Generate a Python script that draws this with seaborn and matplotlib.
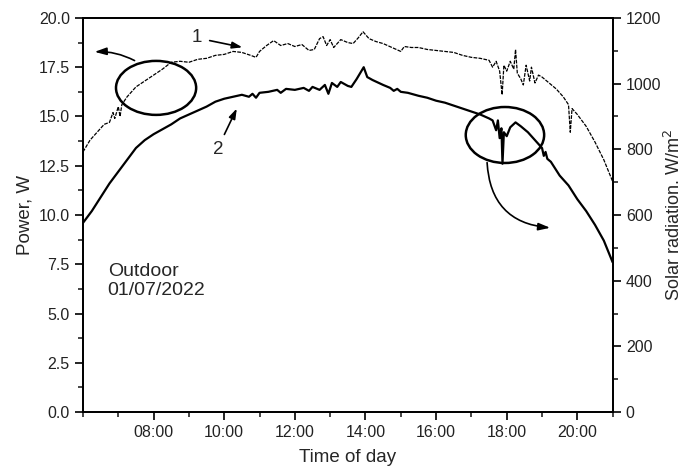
import pandas as pd
import matplotlib.pyplot as plt
import seaborn as sns
from matplotlib.patches import Ellipse
from matplotlib.ticker import MultipleLocator

# Output power of the module (curve 2), hours of day vs W
power_hours = [6.0, 6.25, 6.5, 6.75, 7.0, 7.25, 7.5, 7.75, 8.0, 8.25, 8.5, 8.75,
               9.0, 9.25, 9.5, 9.75, 10.0, 10.25, 10.5, 10.7, 10.8, 10.9, 11.0,
               11.25, 11.5, 11.6, 11.75, 12.0, 12.25, 12.4, 12.5, 12.7, 12.85,
               12.95, 13.05, 13.2, 13.3, 13.5, 13.6, 13.75, 13.85, 13.95, 14.05,
               14.2, 14.5, 14.7, 14.8, 14.9, 15.0, 15.2, 15.5, 15.75, 16.0, 16.25,
               16.5, 16.75, 17.0, 17.25, 17.5, 17.6, 17.7, 17.75, 17.8, 17.85,
               17.88, 17.92, 18.0, 18.1, 18.25, 18.4, 18.6, 18.8, 19.0, 19.05,
               19.1, 19.15, 19.25, 19.5, 19.75, 20.0, 20.25, 20.5, 20.75, 21.0]
power_w = [9.6, 10.2, 10.9, 11.6, 12.2, 12.8, 13.4, 13.8, 14.1, 14.35, 14.6, 14.9,
           15.1, 15.3, 15.5, 15.75, 15.9, 16.0, 16.1, 16.0, 16.15, 15.95, 16.2,
           16.25, 16.35, 16.2, 16.4, 16.35, 16.45, 16.3, 16.5, 16.35, 16.6,
           16.15, 16.7, 16.5, 16.75, 16.55, 16.5, 16.9, 17.2, 17.5, 17.0,
           16.85, 16.6, 16.45, 16.3, 16.4, 16.25, 16.2, 16.05, 15.95, 15.8, 15.7,
           15.55, 15.4, 15.25, 15.1, 14.9, 14.8, 14.3, 14.8, 13.9, 14.4,
           12.6, 14.2, 14.0, 14.45, 14.7, 14.5, 14.2, 13.8, 13.4, 13.0,
           13.2, 12.85, 12.7, 12.0, 11.5, 10.8, 10.2, 9.5, 8.7, 7.6]

# Solar radiation (curve 1), hours of day vs W/m2
solar_hours = [6.0, 6.2, 6.4, 6.6, 6.75, 6.85, 6.9, 7.0, 7.05, 7.1, 7.25, 7.5, 7.75,
               8.0, 8.25, 8.5, 8.75, 9.0, 9.25, 9.5, 9.75, 10.0, 10.25, 10.5, 10.75,
               10.9, 11.0, 11.2, 11.4, 11.6, 11.8, 12.0, 12.2, 12.4, 12.55, 12.7,
               12.8, 12.9, 13.0, 13.1, 13.3, 13.5, 13.65, 13.8, 13.93, 14.1, 14.3,
               14.5, 14.75, 15.0, 15.1, 15.3, 15.5, 15.75, 16.0, 16.25, 16.5, 16.75,
               17.0, 17.25, 17.5, 17.6, 17.7, 17.8, 17.87, 17.92, 18.0, 18.1, 18.2,
               18.25, 18.3, 18.4, 18.47, 18.55, 18.65, 18.7, 18.8, 18.9, 19.0, 19.2,
               19.4, 19.6, 19.75, 19.8, 19.85, 20.0, 20.25, 20.5, 20.75, 21.0]
solar_wm2 = [792, 828, 852, 876, 882, 912, 894, 930, 900, 936, 960, 990, 1008,
             1026, 1044, 1065, 1068, 1065, 1074, 1077, 1086, 1089, 1098, 1095, 1086,
             1080, 1098, 1116, 1131, 1116, 1122, 1113, 1119, 1101, 1104, 1137,
             1143, 1116, 1134, 1110, 1134, 1125, 1122, 1140, 1158, 1137, 1128,
             1122, 1110, 1098, 1113, 1110, 1110, 1104, 1101, 1098, 1095, 1086,
             1080, 1077, 1071, 1050, 1068, 1038, 966, 1056, 1038, 1068, 1044,
             1104, 1032, 1014, 996, 1056, 1008, 1050, 1002, 1026, 1020, 1002,
             984, 960, 936, 852, 924, 906, 870, 822, 768, 702]

tick_hours = [8, 10, 12, 14, 16, 18, 20]
tick_labels = ['08:00', '10:00', '12:00', '14:00', '16:00', '18:00', '20:00']

power_df = pd.DataFrame({'hour': power_hours, 'power': power_w})
solar_df = pd.DataFrame({'hour': solar_hours, 'solar': solar_wm2})

sns.set_style('ticks')
plt.rcParams['font.family'] = ['Liberation Sans', 'DejaVu Sans']

fig = plt.figure(figsize=(6.83, 4.72), dpi=100)
ax = fig.add_axes([0.1215, 0.127, 0.7755, 0.835])
ax2 = ax.twinx()

sns.lineplot(data=power_df, x='hour', y='power', ax=ax, color='black', lw=1.6)
sns.lineplot(data=solar_df, x='hour', y='solar', ax=ax2, color='black', lw=0.9,
             linestyle=(0, (3, 1)))

ax.set_xlim(6.0, 21.0)
ax.set_ylim(0, 20)
ax2.set_ylim(0, 1200)
ax.set_xticks(tick_hours, tick_labels)
ax.xaxis.set_minor_locator(MultipleLocator(1))
ax.yaxis.set_major_locator(MultipleLocator(2.5))
ax.yaxis.set_minor_locator(MultipleLocator(1.25))
ax.yaxis.set_major_formatter('{x:.1f}')
ax2.yaxis.set_major_locator(MultipleLocator(200))
ax2.yaxis.set_minor_locator(MultipleLocator(100))

for a in (ax, ax2):
    a.tick_params(which='major', direction='out', length=6, width=1.2, labelsize=11.5,
                  color='black', labelcolor='#222222')
    a.tick_params(which='minor', direction='out', length=3.5, width=1.2)
    for s in a.spines.values():
        s.set_linewidth(1.3)
        s.set_color('black')
        s.set_visible(True)

ax.set_xlabel('Time of day', fontsize=13.5, labelpad=6)
ax.set_ylabel('Power, W', fontsize=13.5)
ax2.set_ylabel('Solar radiation. W/m$^2$', fontsize=13, labelpad=2)

# curve labels and pointers
ax.text(9.23, 19.0, '1', fontsize=13.5, ha='center', va='center')
ax.annotate('', xy=(10.59, 18.48), xytext=(9.51, 18.88),
            arrowprops=dict(arrowstyle='-|>,head_length=0.6,head_width=0.2', color='black', lw=1.2))
ax.text(9.82, 13.3, '2', fontsize=13.5, ha='center', va='center')
ax.annotate('', xy=(10.39, 15.53), xytext=(9.97, 13.96),
            arrowprops=dict(arrowstyle='-|>,head_length=0.6,head_width=0.2', color='black', lw=1.2))

# circles marking which axis each curve belongs to
ax.add_patch(Ellipse((8.07, 16.45), 2.27, 2.74, fill=False, lw=1.8, color='black'))
ax.add_patch(Ellipse((17.95, 14.06), 2.22, 2.84, fill=False, lw=1.8, color='black'))
ax.annotate('', xy=(6.25, 18.27), xytext=(7.53, 17.77),
            arrowprops=dict(arrowstyle='-|>,head_length=0.7,head_width=0.22', color='black', lw=1.2,
                            connectionstyle='arc3,rad=0.15'))
ax.annotate('', xy=(19.31, 9.34), xytext=(17.44, 12.8),
            arrowprops=dict(arrowstyle='-|>,head_length=0.7,head_width=0.22', color='black', lw=1.2,
                            connectionstyle='arc3,rad=0.45'))

ax.text(6.7, 6.65, 'Outdoor\n01/07/2022', fontsize=14, ha='left', va='center', linespacing=1.1)

fig.savefig('out.png', dpi=100)
